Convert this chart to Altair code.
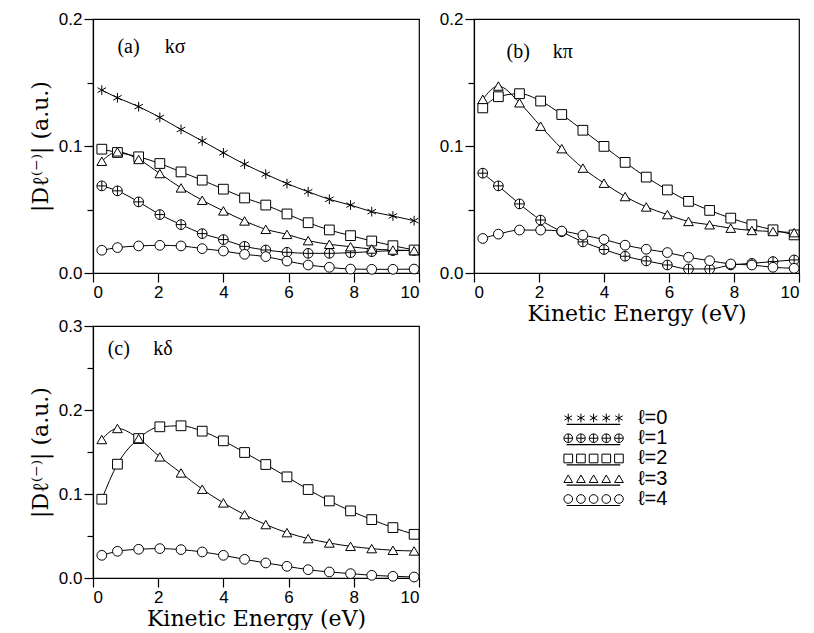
import altair as alt
import pandas as pd

# ---------------- data ----------------
energy = [0.27, 0.75, 1.4, 2.05, 2.7, 3.35, 4.0, 4.65, 5.3, 5.95, 6.6, 7.25, 7.9, 8.55, 9.2, 9.85]
ell_labels = ["ℓ=0", "ℓ=1", "ℓ=2", "ℓ=3", "ℓ=4"]

# panel (a) k-sigma
a_l0 = [0.144, 0.138, 0.131, 0.1225, 0.113, 0.104, 0.0946, 0.0857, 0.0778, 0.0704, 0.064, 0.058, 0.0535, 0.0483, 0.0449, 0.0412]
a_l1 = [0.0686, 0.0647, 0.056, 0.046, 0.0381, 0.031, 0.0263, 0.021, 0.0181, 0.0163, 0.0155, 0.0155, 0.016, 0.0168, 0.0176, 0.0178]
a_l2 = [0.0975, 0.0949, 0.0915, 0.0862, 0.0796, 0.0731, 0.066, 0.0591, 0.0535, 0.0465, 0.0396, 0.0339, 0.0294, 0.0252, 0.0215, 0.0181]
a_l3 = [0.088, 0.0954, 0.0894, 0.0783, 0.067, 0.0573, 0.0489, 0.041, 0.0344, 0.0304, 0.0255, 0.0226, 0.0207, 0.0189, 0.0181, 0.0176]
a_l4 = [0.0179, 0.02, 0.0213, 0.0218, 0.0213, 0.0192, 0.0173, 0.0147, 0.0129, 0.0094, 0.0063, 0.0045, 0.0031, 0.0029, 0.0029, 0.0031]

# panel (b) k-pi
b_l1 = [0.0786, 0.0686, 0.0544, 0.0417, 0.0325, 0.0245, 0.0185, 0.0132, 0.0095, 0.0063, 0.0032, 0.0032, 0.0063, 0.0076, 0.009, 0.0103]
b_l2 = [0.130, 0.1388, 0.1412, 0.1354, 0.1248, 0.1124, 0.0997, 0.0871, 0.0755, 0.0654, 0.0564, 0.0493, 0.0432, 0.038, 0.034, 0.030]
b_l3 = [0.1367, 0.1472, 0.134, 0.1156, 0.0979, 0.0826, 0.0707, 0.0602, 0.052, 0.046, 0.0406, 0.038, 0.0353, 0.0335, 0.0327, 0.0318]
b_l4 = [0.0272, 0.0306, 0.0338, 0.0338, 0.033, 0.0298, 0.0264, 0.0219, 0.0187, 0.0161, 0.0124, 0.0097, 0.0071, 0.0063, 0.0045, 0.0037]

# panel (c) k-delta
c_l2 = [0.0938, 0.1355, 0.166, 0.18, 0.1812, 0.1748, 0.1633, 0.1494, 0.1351, 0.1204, 0.1053, 0.0918, 0.0799, 0.0695, 0.06, 0.052]
c_l3 = [0.1649, 0.178, 0.166, 0.1442, 0.1251, 0.1057, 0.0894, 0.0755, 0.0636, 0.054, 0.0469, 0.0417, 0.0377, 0.035, 0.033, 0.0322]
c_l4 = [0.027, 0.0318, 0.0342, 0.035, 0.0338, 0.031, 0.027, 0.0222, 0.0179, 0.0139, 0.0099, 0.0072, 0.0052, 0.0032, 0.002, 0.0012]

panel_tags = ["(a)", "(b)", "(c)"]
panel_syms = ["kσ", "kπ", "kδ"]

x_title = "Kinetic Energy (eV)"
y_title = "|Dℓ⁽⁻⁾|  (a.u.)"

# ---------------- styles ----------------
ASTERISK = "M0,-1L0,1M-0.87,-0.5L0.87,0.5M-0.87,0.5L0.87,-0.5"
OPLUS = "M-1,0A1,1,0,1,1,1,0A1,1,0,1,1,-1,0ZM-1,0L1,0M0,-1L0,1"
shape_scale = alt.Scale(domain=ell_labels,
                        range=[ASTERISK, OPLUS, "square", "triangle-up", "circle"])

TITLE_FONT = "DejaVu Serif"
LABEL_FONT = "Liberation Sans"


def long_df(series):
    rows = []
    for lab, vals in series:
        for e, v in zip(energy, vals):
            rows.append({"E": e, "D": v, "l": lab})
    return pd.DataFrame(rows)


def panel(series, ymax, yvals, tag, sym, tag_pos, show_x_title, show_y_title, w, h):
    df = long_df(series)
    xaxis = alt.Axis(
        values=list(range(0, 11)),
        labelExpr="datum.value % 2 == 0 ? datum.label : ''",
        tickSize={"condition": {"test": "datum.value % 2 == 0", "value": 9}, "value": 5},
        labelPadding=2,
        title=x_title if show_x_title else None,
        titlePadding=3,
    )
    yaxis = alt.Axis(
        values=yvals,
        format=".1f",
        labelExpr="abs(datum.value*10 - round(datum.value*10)) < 0.001 ? datum.label : ''",
        tickSize={"condition": {"test": "abs(datum.value*10 - round(datum.value*10)) < 0.001",
                                "value": 9}, "value": 6},
        labelPadding=2,
        title=y_title if show_y_title else None,
        titlePadding=6,
    )
    x = alt.X("E:Q", scale=alt.Scale(domain=[0, 10], nice=False), axis=xaxis)
    y = alt.Y("D:Q", scale=alt.Scale(domain=[0, ymax], nice=False), axis=yaxis)
    base = alt.Chart(df)
    lines = base.mark_line(color="black", strokeWidth=1, interpolate="monotone").encode(
        x=x, y=y, detail="l:N")
    pts = base.mark_point(fill="white", stroke="black", strokeWidth=1, opacity=1,
                          fillOpacity=1, size=95).encode(
        x=x, y=y, shape=alt.Shape("l:N", scale=shape_scale, legend=None))
    tdf = pd.DataFrame({"E": [tag_pos[0], tag_pos[1]], "D": [tag_pos[2], tag_pos[2]],
                        "t": [tag, sym]})
    txt = alt.Chart(tdf).mark_text(font="Liberation Serif", fontSize=20, align="left",
                                   baseline="alphabetic", color="black").encode(
        x=alt.X("E:Q"), y=alt.Y("D:Q"), text="t:N")
    return alt.layer(lines, pts, txt).properties(width=w, height=h)


pa = panel([(ell_labels[0], a_l0), (ell_labels[1], a_l1), (ell_labels[2], a_l2),
            (ell_labels[3], a_l3), (ell_labels[4], a_l4)],
           0.2, [0, 0.05, 0.1, 0.15, 0.2], panel_tags[0], panel_syms[0],
           (0.75, 2.2, 0.173), False, True, 326, 254)
pb = panel([(ell_labels[1], b_l1), (ell_labels[2], b_l2),
            (ell_labels[3], b_l3), (ell_labels[4], b_l4)],
           0.2, [0, 0.05, 0.1, 0.15, 0.2], panel_tags[1], panel_syms[1],
           (1.0, 2.42, 0.169), True, False, 325, 254)
pc = panel([(ell_labels[2], c_l2), (ell_labels[3], c_l3), (ell_labels[4], c_l4)],
           0.3, [0, 0.05, 0.1, 0.15, 0.2, 0.25, 0.3], panel_tags[2], panel_syms[2],
           (0.45, 1.85, 0.265), True, True, 326, 252)

# ---------------- custom legend ----------------
leg_rows = []
for i, lab in enumerate(ell_labels):
    for k in range(5):
        leg_rows.append({"x": 2.9 + 0.39 * k, "row": i, "l": lab})
leg_pts_df = pd.DataFrame(leg_rows)
leg_line_df = pd.DataFrame({"x": [2.85] * 5, "x2": [4.5] * 5,
                            "row": [i + 0.32 for i in range(5)], "l": ell_labels})
leg_txt_df = pd.DataFrame({"x": [5.05] * 5, "row": list(range(5)), "l": ell_labels})

lx = alt.Scale(domain=[0, 10], nice=False)
ly = alt.Scale(domain=[-4.54, 7.9], nice=False, reverse=True)
leg_pts = alt.Chart(leg_pts_df).mark_point(fill="white", stroke="black", strokeWidth=1,
                                           opacity=1, fillOpacity=1, size=75).encode(
    x=alt.X("x:Q", scale=lx, axis=None),
    y=alt.Y("row:Q", scale=ly, axis=None),
    shape=alt.Shape("l:N", scale=shape_scale, legend=None))
leg_lines = alt.Chart(leg_line_df).mark_rule(color="black", strokeWidth=1.2).encode(
    x=alt.X("x:Q", scale=lx, axis=None), x2="x2:Q",
    y=alt.Y("row:Q", scale=ly, axis=None))
leg_txt = alt.Chart(leg_txt_df).mark_text(font=LABEL_FONT, fontSize=20, align="left",
                                          baseline="middle", color="black").encode(
    x=alt.X("x:Q", scale=lx, axis=None),
    y=alt.Y("row:Q", scale=ly, axis=None), text="l:N")
legend = alt.layer(leg_lines, leg_pts, leg_txt).properties(
    width=325, height=252, view=alt.ViewBackground(strokeOpacity=0))

chart = alt.concat(pa, pb, pc, legend, columns=2,
                   spacing={"row": 53, "column": 55}, bounds="flush").properties(
    padding={"left": 20, "top": 1, "right": 0, "bottom": 0},
    background="white",
).configure_view(stroke="black", strokeWidth=1.2).configure_axis(
    grid=False, domainColor="black", domainWidth=1.2, tickColor="black", tickWidth=1.2,
    labelColor="black", titleColor="black", labelFont=LABEL_FONT, labelFontSize=17,
    titleFont=TITLE_FONT, titleFontSize=22, titleFontWeight="normal",
)

chart.save("out.html", embed_options={"renderer": "svg", "actions": False})
